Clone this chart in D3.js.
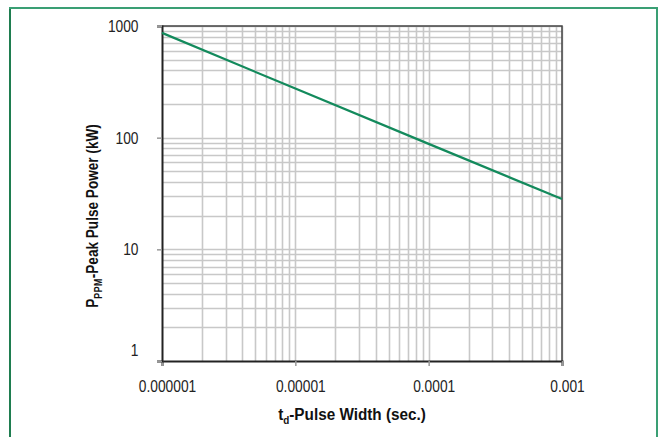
<!DOCTYPE html>
<html>
<head>
<meta charset="utf-8">
<script src="https://cdn.jsdelivr.net/npm/d3@7"></script>
<style>
  html, body { margin: 0; padding: 0; background: #fff; }
  svg { display: block; }
  .tick text { font-family: "Liberation Sans Narrow", "Arial Narrow", "Liberation Sans", sans-serif; font-size: 17px; fill: #222; }
  .title { font-family: "Liberation Sans Narrow", "Arial Narrow", "Liberation Sans", sans-serif; font-size: 17px; font-weight: bold; fill: #111; }
</style>
</head>
<body>
<div id="chart"></div>
<script>
// pulse width (sec) vs peak pulse power (kW)
const pulseWidth = [0.000001, 0.00001, 0.0001, 0.001];
const peakPower = [868, 275, 88, 28.2];

const xTicks = [0.000001, 0.00001, 0.0001, 0.001];
const xTickLabels = ['0.000001', '0.00001', '0.0001', '0.001'];
const yTicks = [1, 10, 100, 1000];
const yTickLabels = ['1', '10', '100', '1000'];

const width = 659;
const height = 437;
const plot = { left: 162, top: 26, right: 562, bottom: 361 };
const narrow = 0.81; // no condensed face installed, squeeze the regular one

const svg = d3.select('#chart').append('svg').attr('width', width).attr('height', height);

// outer green frame
svg.append('path')
  .attr('d', `M 10 ${height + 5} L 10 8 L 657 8 L 657 ${height + 5}`)
  .attr('fill', 'none')
  .attr('stroke', '#3a9f74')
  .attr('stroke-width', 2);
svg.append('line')
  .attr('x1', 10).attr('x2', 10).attr('y1', 9).attr('y2', height)
  .attr('stroke', '#1f7d50').attr('stroke-width', 2);

const x = d3.scaleLog().domain([1e-6, 1e-3]).range([plot.left, plot.right]);
const y = d3.scaleLog().domain([1, 1000]).range([plot.bottom, plot.top]);

// minor + major grid
const xGrid = [];
const yGrid = [];
[1e-6, 1e-5, 1e-4].forEach((d) => {
  for (let k = 2; k <= 10; k++) xGrid.push(d * k);
});
[1, 10, 100].forEach((d) => {
  for (let k = 2; k <= 10; k++) yGrid.push(d * k);
});

const grid = svg.append('g');
grid.selectAll('line.v')
  .data(xGrid)
  .join('line')
  .attr('class', 'v')
  .attr('x1', (d) => Math.round(x(d)) + 0.5)
  .attr('x2', (d) => Math.round(x(d)) + 0.5)
  .attr('y1', plot.top)
  .attr('y2', plot.bottom)
  .attr('stroke', '#c8c8c8')
  .attr('stroke-width', 1.6);
grid.selectAll('line.h')
  .data(yGrid)
  .join('line')
  .attr('class', 'h')
  .attr('x1', plot.left)
  .attr('x2', plot.right)
  .attr('y1', (d) => Math.round(y(d)) + 0.5)
  .attr('y2', (d) => Math.round(y(d)) + 0.5)
  .attr('stroke', '#c8c8c8')
  .attr('stroke-width', 1.6);

// top and right frame
svg.append('path')
  .attr('d', `M ${plot.left} ${plot.top} H ${plot.right} V ${plot.bottom}`)
  .attr('fill', 'none')
  .attr('stroke', '#444')
  .attr('stroke-width', 1.5);

// axes
const xAxis = svg.append('g')
  .attr('transform', `translate(0,${plot.bottom})`)
  .call(d3.axisBottom(x).tickValues(xTicks).tickFormat((d, i) => xTickLabels[i]).tickSize(5).tickPadding(14));
xAxis.select('.domain').attr('stroke', '#222').attr('stroke-width', 2);
xAxis.selectAll('.tick line').attr('stroke', '#999').attr('stroke-width', 1.5);
xAxis.selectAll('.tick text')
  .attr('x', 5 / narrow)
  .attr('transform', `scale(${narrow},1)`);

const yAxis = svg.append('g')
  .attr('transform', `translate(${plot.left},0)`)
  .call(d3.axisLeft(y).tickValues(yTicks).tickFormat((d, i) => yTickLabels[i]).tickSize(5).tickPadding(19));
yAxis.select('.domain').attr('stroke', '#222').attr('stroke-width', 2);
yAxis.selectAll('.tick line').attr('stroke', '#999').attr('stroke-width', 1.5);
yAxis.selectAll('.tick text')
  .attr('x', -23.5 / narrow)
  .attr('transform', `scale(${narrow},1)`);
// the "1" label sits above the corner
yAxis.selectAll('.tick text').filter((d) => d === 1).attr('dy', '-0.35em');

// curve
const line = d3.line()
  .x((d, i) => x(pulseWidth[i]))
  .y((d) => y(d));
svg.append('path')
  .datum(peakPower)
  .attr('d', line)
  .attr('fill', 'none')
  .attr('stroke', '#138a5c')
  .attr('stroke-width', 2.2);

// axis titles
const xt = svg.append('text')
  .attr('class', 'title')
  .attr('transform', `translate(${(plot.left + plot.right) / 2 - 10},420) scale(0.9,1)`)
  .attr('text-anchor', 'middle');
xt.append('tspan').text('t');
xt.append('tspan').attr('dy', 4).attr('font-size', 11).text('d');
xt.append('tspan').attr('dy', -4).text('-Pulse Width (sec.)');

const yt = svg.append('text')
  .attr('class', 'title')
  .attr('transform', 'translate(98,216) rotate(-90) scale(0.8,1)')
  .attr('text-anchor', 'middle');
yt.append('tspan').text('P');
yt.append('tspan').attr('dy', 4).attr('font-size', 11).attr('letter-spacing', 0.6).text('PPM');
yt.append('tspan').attr('dy', -4).text('-Peak Pulse Power (kW)');
</script>
</body>
</html>
